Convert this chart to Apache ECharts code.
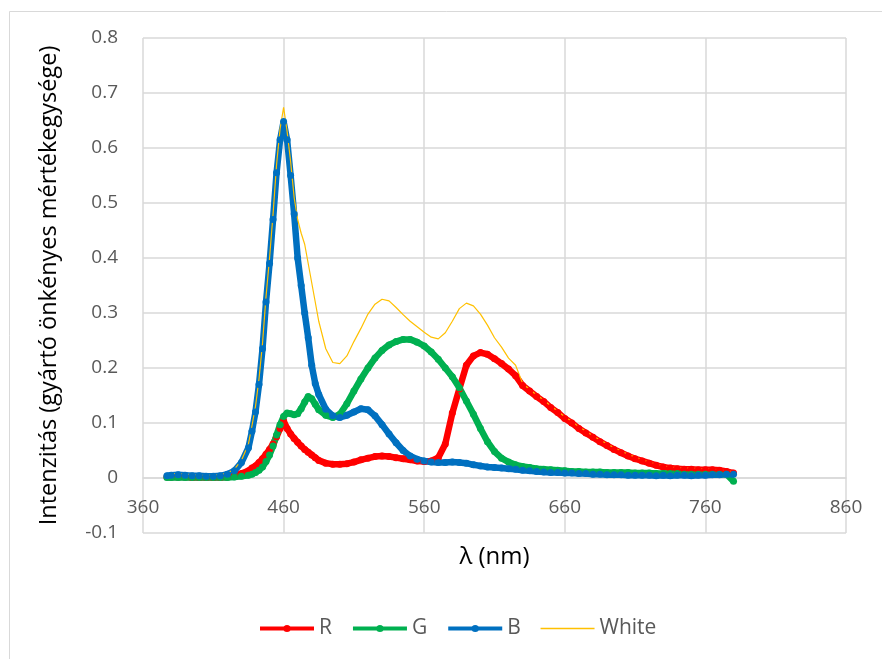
<!DOCTYPE html>
<html>
<head>
<meta charset="utf-8">
<script src="https://cdn.jsdelivr.net/npm/echarts@6/dist/echarts.min.js"></script>
<style>
html,body{margin:0;padding:0;background:#fff;}
#chart{width:882px;height:659px;}
</style>
</head>
<body>
<div id="chart"></div>
<script>
// Wavelengths (nm)
var wavelengths = [377, 380, 385, 390, 395, 400, 405, 410, 415, 420, 425, 430,
  435, 437.5, 440, 442.5, 445, 447.5, 450, 452.5, 455, 457.5, 460, 462.5, 465, 467.5, 470, 472.5, 475, 477.5, 480, 482.5, 485,
  490, 495, 500, 505, 510, 515, 520, 525, 530, 535,
  540, 545, 550, 555, 560, 565, 570, 575, 580, 585,
  590, 595, 600, 605, 610, 615, 620, 625, 630, 635,
  640, 645, 650, 655, 660, 665, 670, 675, 680, 685,
  690, 695, 700, 705, 710, 715, 720, 725, 730, 735,
  740, 745, 750, 755, 760, 765, 770, 775, 780];

var seriesR = [0.002, 0.002, 0.002, 0.002, 0.001, 0.001, 0.001, 0.001, 0.001, 0.002, 0.004, 0.008,
  0.013, 0.018, 0.022, 0.028, 0.035, 0.043, 0.052, 0.062, 0.075, 0.09, 0.104, 0.09, 0.08, 0.072, 0.065, 0.058, 0.052, 0.047, 0.042, 0.037, 0.032,
  0.027, 0.025, 0.025, 0.026, 0.029, 0.033, 0.036, 0.039, 0.04, 0.039,
  0.037, 0.035, 0.033, 0.031, 0.03, 0.031, 0.037, 0.062, 0.118, 0.162,
  0.205, 0.222, 0.228, 0.225, 0.217, 0.208, 0.198, 0.186, 0.168, 0.158,
  0.148, 0.139, 0.128, 0.119, 0.108, 0.1, 0.09, 0.082, 0.074, 0.066,
  0.059, 0.052, 0.046, 0.04, 0.035, 0.031, 0.027, 0.023, 0.02, 0.018,
  0.017, 0.016, 0.016, 0.015, 0.015, 0.015, 0.014, 0.012, 0.009];

var seriesG = [0.001, 0.001, 0.001, 0.001, 0.001, 0.001, 0.001, 0.001, 0.001, 0.001, 0.002, 0.003,
  0.005, 0.007, 0.01, 0.014, 0.02, 0.03, 0.042, 0.058, 0.078, 0.097, 0.112, 0.118, 0.117, 0.115, 0.117, 0.126, 0.138, 0.148, 0.144, 0.134, 0.124,
  0.114, 0.11, 0.116, 0.135, 0.158, 0.18, 0.2, 0.218, 0.232, 0.242,
  0.248, 0.252, 0.252, 0.247, 0.24, 0.229, 0.216, 0.2, 0.184, 0.164,
  0.14, 0.116, 0.09, 0.066, 0.048, 0.036, 0.029, 0.024, 0.021, 0.019,
  0.017, 0.016, 0.015, 0.014, 0.013, 0.012, 0.012, 0.011, 0.011, 0.011,
  0.01, 0.01, 0.01, 0.01, 0.009, 0.009, 0.009, 0.008, 0.008, 0.008,
  0.008, 0.007, 0.007, 0.007, 0.007, 0.007, 0.007, 0.007, -0.006];

var seriesB = [0.004, 0.005, 0.006, 0.005, 0.004, 0.004, 0.003, 0.003, 0.004, 0.007, 0.013, 0.028,
  0.055, 0.085, 0.12, 0.17, 0.235, 0.32, 0.39, 0.47, 0.555, 0.615, 0.648, 0.615, 0.55, 0.48, 0.40, 0.35, 0.30, 0.255, 0.205, 0.172, 0.152,
  0.125, 0.113, 0.11, 0.114, 0.12, 0.126, 0.124, 0.113, 0.097, 0.08,
  0.064, 0.05, 0.04, 0.034, 0.031, 0.029, 0.028, 0.028, 0.029, 0.028,
  0.027, 0.024, 0.022, 0.02, 0.019, 0.018, 0.017, 0.016, 0.014, 0.013,
  0.012, 0.011, 0.01, 0.01, 0.009, 0.009, 0.008, 0.008, 0.007, 0.007,
  0.006, 0.006, 0.006, 0.005, 0.005, 0.005, 0.005, 0.004, 0.005, 0.004,
  0.005, 0.005, 0.004, 0.005, 0.005, 0.006, 0.006, 0.007, 0.007];

var seriesWhite = [0.006, 0.008, 0.008, 0.007, 0.006, 0.005, 0.005, 0.005, 0.006, 0.009, 0.016, 0.032,
  0.062, 0.095, 0.13, 0.18, 0.245, 0.33, 0.40, 0.48, 0.57, 0.635, 0.674, 0.63, 0.575, 0.51, 0.47, 0.445, 0.425, 0.39, 0.355, 0.32, 0.285,
  0.235, 0.21, 0.208, 0.222, 0.248, 0.272, 0.298, 0.316, 0.325, 0.322,
  0.31, 0.297, 0.285, 0.275, 0.265, 0.256, 0.253, 0.264, 0.285, 0.308,
  0.318, 0.313, 0.298, 0.278, 0.255, 0.238, 0.218, 0.205, 0.172, 0.161,
  0.151, 0.142, 0.131, 0.122, 0.111, 0.103, 0.093, 0.085, 0.077, 0.069,
  0.062, 0.055, 0.049, 0.043, 0.038, 0.033, 0.029, 0.025, 0.022, 0.02,
  0.019, 0.018, 0.018, 0.017, 0.017, 0.016, 0.015, 0.013, 0.011];

var seriesNames = ['R', 'G', 'B', 'White'];
var seriesColors = ['#FF0000', '#00B050', '#0070C0', '#FFC000'];
var xTicks = [360, 460, 560, 660, 760, 860];
var yTicks = [-0.1, 0, 0.1, 0.2, 0.3, 0.4, 0.5, 0.6, 0.7, 0.8];

function pairs(vals) {
  return wavelengths.map(function (w, i) { return [w, vals[i]]; });
}

var chart = echarts.init(document.getElementById('chart'), null, {renderer: 'canvas'});
var fontFam = '"Open Sans", "Noto Sans", sans-serif';
var gridColor = '#d9d9d9';

function markerSeries(name, color, vals) {
  return {
    name: name, type: 'line', data: pairs(vals),
    symbol: 'circle', symbolSize: 7, showSymbol: true,
    lineStyle: {color: color, width: 6.5},
    itemStyle: {color: color},
    emphasis: {disabled: true},
    animation: false
  };
}

chart.setOption({
  backgroundColor: '#ffffff',
  animation: false,
  graphic: [{
    type: 'rect', left: 7, top: 9,
    shape: {width: 900, height: 700},
    style: {fill: null, stroke: gridColor, lineWidth: 1},
    silent: true, z: -1
  }],
  grid: {left: 143, right: 36, top: 38, bottom: 126, containLabel: false},
  legend: {
    top: 613, left: 253,
    itemWidth: 54, itemHeight: 9, itemGap: 19,
    textStyle: {color: '#595959', fontSize: 21, fontFamily: fontFam},
    data: [
      {name: seriesNames[0], lineStyle: {width: 4}},
      {name: seriesNames[1], lineStyle: {width: 4}},
      {name: seriesNames[2], lineStyle: {width: 4}},
      {name: seriesNames[3], lineStyle: {width: 1.5}, itemStyle: {opacity: 0}}
    ]
  },
  xAxis: {
    type: 'value', min: xTicks[0], max: xTicks[xTicks.length - 1], interval: 100,
    offset: -55,
    name: 'λ (nm)', nameLocation: 'middle', nameGap: 67,
    nameTextStyle: {color: '#000', fontSize: 24, fontFamily: fontFam},
    axisLine: {show: true, onZero: false, lineStyle: {color: gridColor, width: 1.5}},
    axisTick: {show: false},
    axisLabel: {color: '#595959', fontSize: 19, fontFamily: fontFam, margin: 20},
    splitLine: {show: true, lineStyle: {color: gridColor, width: 1.5}}
  },
  yAxis: {
    type: 'value', min: yTicks[0], max: yTicks[yTicks.length - 1], interval: 0.1,
    name: 'Intenzitás (gyártó önkényes mértékegysége)', nameLocation: 'middle', nameGap: 82,
    nameRotate: 90,
    nameTextStyle: {color: '#000', fontSize: 23.5, fontFamily: fontFam},
    axisLine: {show: false},
    axisTick: {show: false},
    axisLabel: {
      color: '#595959', fontSize: 19, fontFamily: fontFam, margin: 25,
      formatter: function (v) { return String(Math.round(v * 10) / 10); }
    },
    splitLine: {show: true, lineStyle: {color: gridColor, width: 1.5}}
  },
  series: [
    markerSeries(seriesNames[0], seriesColors[0], seriesR),
    markerSeries(seriesNames[1], seriesColors[1], seriesG),
    markerSeries(seriesNames[2], seriesColors[2], seriesB),
    {
      name: seriesNames[3], type: 'line', data: pairs(seriesWhite),
      symbol: 'none', showSymbol: false,
      lineStyle: {color: seriesColors[3], width: 1.2},
      itemStyle: {color: seriesColors[3]},
      emphasis: {disabled: true},
      animation: false
    }
  ]
});
</script>
</body>
</html>
